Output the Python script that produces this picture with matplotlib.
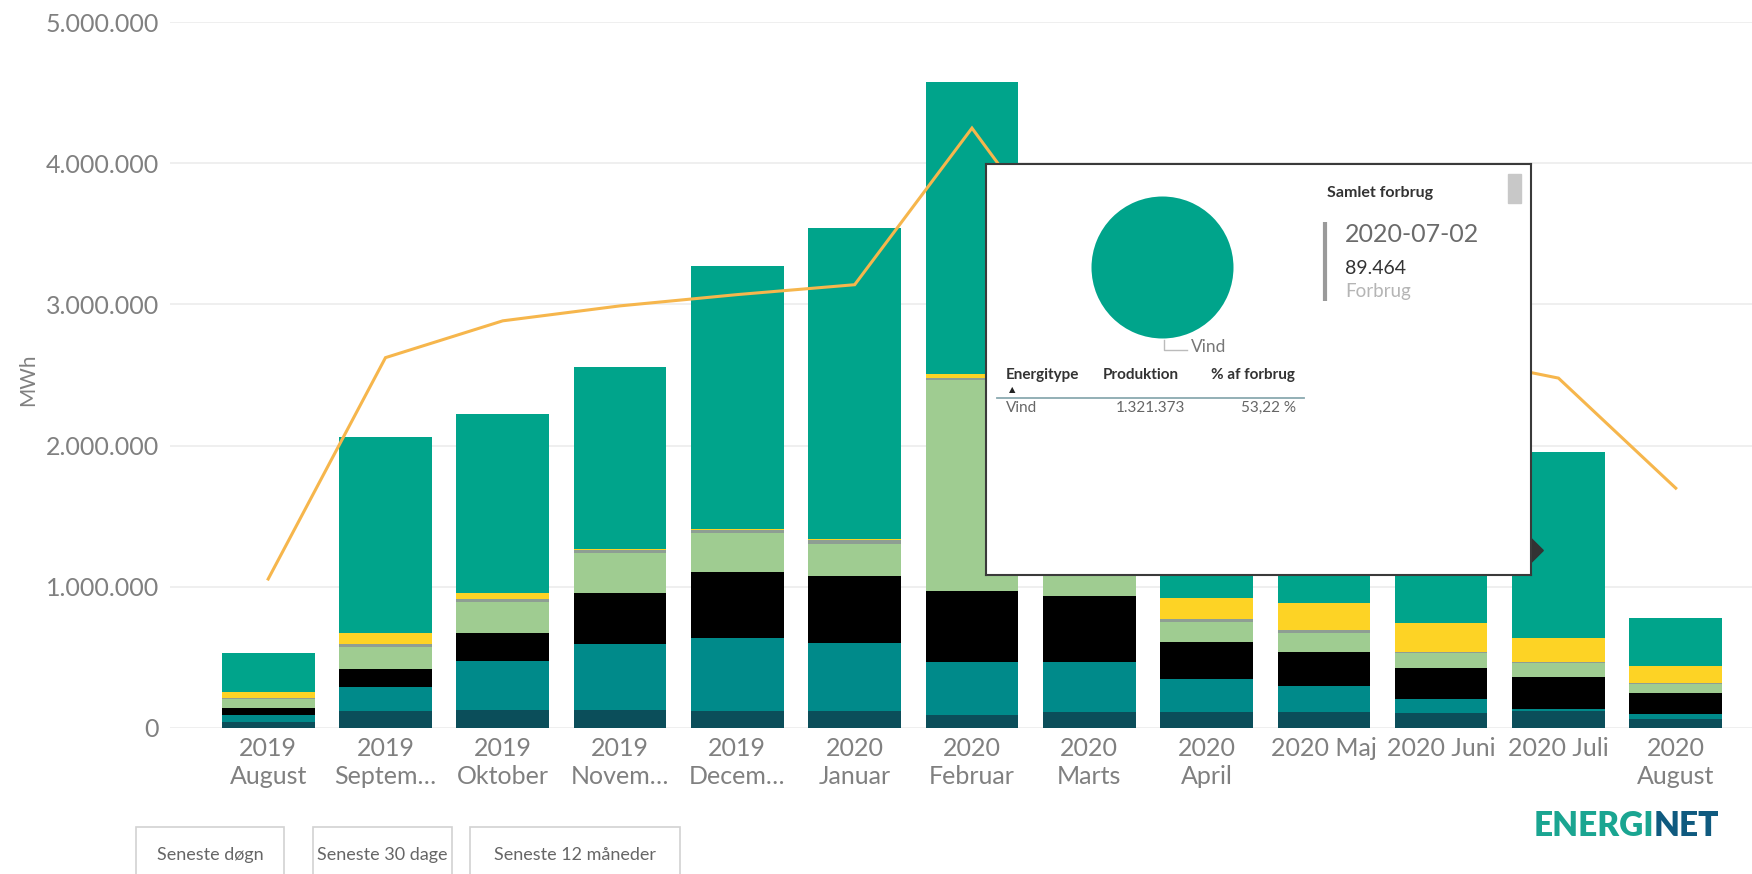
import matplotlib
matplotlib.use('Agg')
import matplotlib.pyplot as plt
import matplotlib.ticker as mticker
from matplotlib.patches import Rectangle, Polygon
import numpy as np

# ========== STYLE ==========
plt.rcParams.update({
    'font.family': ['Lato', 'DejaVu Sans'],
    'font.size': 13,
    'figure.facecolor': 'white',
    'axes.facecolor': 'white',
})

W, H = 1752, 874  # output size in px (dpi 100)


def fx(x):
    return x / W


def fy(y):
    return 1 - y / H


# ========== DATA (MWh per month) ==========
months = ['2019\nAugust', '2019\nSeptem…', '2019\nOktober', '2019\nNovem…',
          '2019\nDecem…', '2020\nJanuar', '2020\nFebruar', '2020\nMarts',
          '2020\nApril', '2020 Maj', '2020 Juni', '2020 Juli', '2020\nAugust']

affald   = [43000, 118000, 125000, 125000, 118000, 120000, 90000, 109000, 109000, 113000, 106000, 120000, 64000]
naturgas = [47000, 173000, 348000, 468000, 520000, 478000, 373000, 359000, 234000, 183000, 95000, 10000, 31000]
kul      = [47000, 123000, 196000, 360000, 466000, 478000, 506000, 466000, 262000, 243000, 225000, 232000, 153000]
biomasse = [68000, 156000, 225000, 288000, 274000, 224000, 1497000, 416000, 147000, 135000, 101000, 94000, 59000]
oevrige  = [7000, 21000, 16000, 19000, 24000, 31000, 12000, 20000, 16000, 19000, 12000, 12000, 12000]
sol      = [43000, 83000, 43000, 10000, 9000, 9000, 30000, 80000, 154000, 189000, 201000, 166000, 118000]
vind     = [272000, 1390000, 1272000, 1290000, 1862000, 2202000, 2072000, 1800000, 1178000, 1018000, 810000, 1323000, 343000]

forbrug  = [1054000, 2623000, 2884000, 2990000, 3070000, 3140000, 4250000, 3120000,
            2750000, 2600000, 2645000, 2478000, 1698000]

# tooltip content
tip_date = '2020-07-02'
tip_forbrug = 89464
tip_types = ['Vind']
tip_prod = [1321373]
tip_pct = [53.22]

# ========== COLOURS ==========
c_affald = '#0b4e5a'
c_gas = '#008a8a'
c_kul = '#000000'
c_bio = '#9fcc91'
c_oev = '#8e9e93'
c_sol = '#fdd325'
c_vind = '#00a48b'
c_line = '#f6b64c'
c_text = '#808080'

fig = plt.figure(figsize=(W / 100, H / 100), dpi=100)
ax = fig.add_axes([fx(170), fy(727.7), (W - 170) / W, (727.7 - 22.3) / H])

x = np.arange(len(months))
bottom = np.zeros(len(months))
for vals, col in [(affald, c_affald), (naturgas, c_gas), (kul, c_kul),
                  (biomasse, c_bio), (oevrige, c_oev), (sol, c_sol), (vind, c_vind)]:
    ax.bar(x, vals, 0.79, bottom=bottom, color=col, linewidth=0, zorder=2)
    bottom += np.array(vals)

ax.plot(x, forbrug, color=c_line, lw=2.2, zorder=3, solid_joinstyle='miter')

ax.set_xlim(-0.837, 12.65)
ax.set_ylim(0, 5000000)
ax.yaxis.set_major_locator(mticker.MultipleLocator(1000000))
ax.yaxis.set_major_formatter(mticker.FuncFormatter(lambda v, _: f'{int(v):,}'.replace(',', '.')))
ax.set_xticks(x)
ax.set_xticklabels(months, linespacing=1.25)
ax.yaxis.grid(True, color='#ececec', lw=1.2)
ax.set_axisbelow(True)
for s in ax.spines.values():
    s.set_visible(False)
ax.tick_params(axis='both', length=0, colors=c_text, labelsize=18)
ax.tick_params(axis='x', pad=7)
ax.tick_params(axis='y', pad=8)

fig.text(fx(28), fy(380), 'MWh', rotation=90, ha='center', va='center',
         fontsize=15, color=c_text)

# ========== TOOLTIP ==========
tx0, ty0, tx1, ty1 = 985.5, 164, 1530.7, 575
tip = fig.add_axes([fx(tx0), fy(ty1), (tx1 - tx0) / W, (ty1 - ty0) / H], zorder=5)
tip.set_xlim(0, tx1 - tx0)
tip.set_ylim(ty1 - ty0, 0)
tip.set_xticks([])
tip.set_yticks([])
for s in tip.spines.values():
    s.set_color('#3a3a3a')
    s.set_linewidth(1.5)

tip.add_patch(Polygon([(545.2, 374), (557.8, 386.5), (545.2, 399)], closed=True,
                      color='#333333', clip_on=False))

tip.text(341.5, 29, 'Samlet forbrug', ha='left', va='center', fontsize=11.5,
         fontweight='bold', color='#333333')
tip.add_patch(Rectangle((522.4, 10), 13, 29, color='#c8c8c8'))
tip.plot([339.9, 339.9], [58, 137], color='#9a9a9a', lw=3, solid_capstyle='butt')
tip.text(359.5, 70, tip_date, ha='left', va='center', fontsize=18, color='#6b6b6b')
tip.text(359.5, 104, f'{tip_forbrug:,}'.replace(',', '.'), ha='left', va='center',
         fontsize=14, color='#333333')
tip.text(359.5, 127, 'Forbrug', ha='left', va='center', fontsize=13.5, color='#b5b5b5')

# pie leader + label
tip.plot([178, 178, 201], [176, 186, 186], color='#bbbbbb', lw=1)
tip.text(205, 183, tip_types[0], ha='left', va='center', fontsize=12.5, color='#777777')

# table
tip.text(20, 211, 'Energitype', ha='left', va='center', fontsize=11, fontweight='bold', color='#333333')
tip.text(117.7, 211, 'Produktion', ha='left', va='center', fontsize=11, fontweight='bold', color='#333333')
tip.text(309, 211, '% af forbrug', ha='right', va='center', fontsize=11, fontweight='bold', color='#333333')
tip.text(26.5, 226, '▲', ha='center', va='center', fontsize=6, color='#222222',
         family=['DejaVu Sans'])
tip.plot([11.6, 318.8], [233.7, 233.7], color='#8aa9b0', lw=1.3)
for i, (t, p, pct) in enumerate(zip(tip_types, tip_prod, tip_pct)):
    yy = 244.3 + i * 20
    tip.text(20, yy, t, ha='left', va='center', fontsize=11, color='#666666')
    tip.text(200, yy, f'{p:,}'.replace(',', '.'), ha='right', va='center', fontsize=11, color='#666666')
    tip.text(310.6, yy, f'{pct:.2f} %'.replace('.', ','), ha='right', va='center', fontsize=11, color='#666666')

pie_ax = fig.add_axes([fx(1091.5), fy(338.5), 142 / W, 142 / H], zorder=6)
pie_ax.pie(tip_prod, colors=[c_vind], radius=1, startangle=90)
pie_ax.set_xlim(-1, 1)
pie_ax.set_ylim(-1, 1)
pie_ax.set_aspect('equal')
pie_ax.axis('off')

# ========== BUTTONS ==========
for label, bx0, bx1 in [('Seneste døgn', 136, 284), ('Seneste 30 dage', 313, 452),
                        ('Seneste 12 måneder', 470, 680)]:
    fig.add_artist(Rectangle((fx(bx0), fy(885)), (bx1 - bx0) / W, (885 - 827) / H,
                             transform=fig.transFigure, facecolor='white',
                             edgecolor='#d2d2d2', lw=1.2))
    fig.text(fx((bx0 + bx1) / 2), fy(855), label, ha='center', va='center',
             fontsize=13, color='#666666')

# ========== LOGO ==========
fig.text(fx(1654), fy(826), 'ENERGI', ha='right', va='center', fontsize=24,
         fontweight='heavy', color='#1aa591')
fig.text(fx(1654), fy(826), 'NET', ha='left', va='center', fontsize=24,
         fontweight='heavy', color='#0f5a7f')

fig.savefig('out.png', dpi=100)
plt.close()
